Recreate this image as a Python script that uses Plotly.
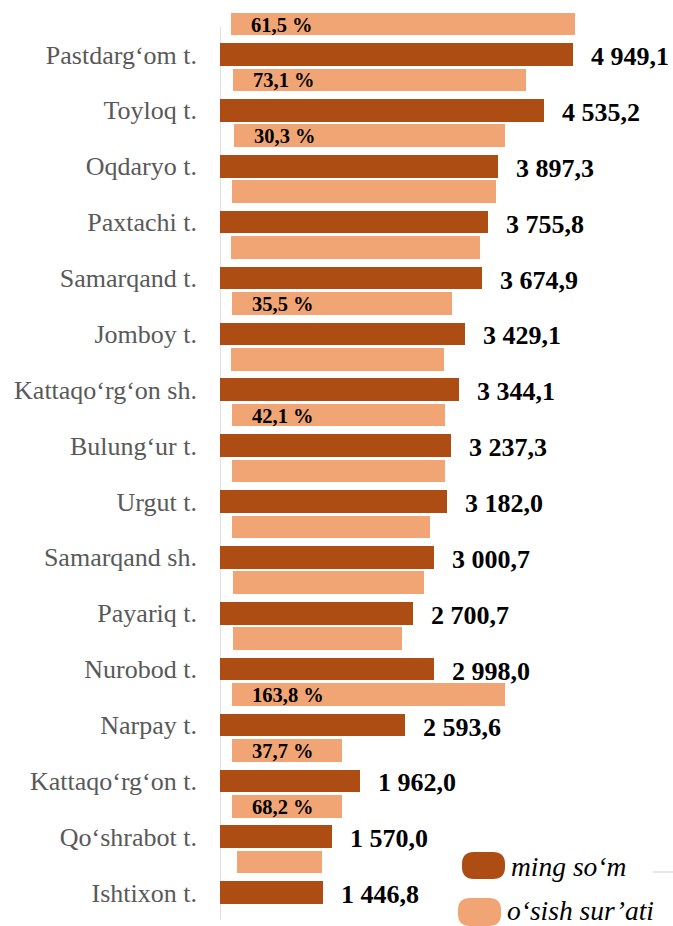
import plotly.graph_objects as go

categories = ["Pastdarg‘om t.", "Toyloq t.", "Oqdaryo t.", "Paxtachi t.", "Samarqand t.",
              "Jomboy t.", "Kattaqo‘rg‘on sh.", "Bulung‘ur t.", "Urgut t.", "Samarqand sh.",
              "Payariq t.", "Nurobod t.", "Narpay t.", "Kattaqo‘rg‘on t.", "Qo‘shrabot t.", "Ishtixon t."]
values = [4949.1, 4535.2, 3897.3, 3755.8, 3674.9, 3429.1, 3344.1, 3237.3,
          3182.0, 3000.7, 2700.7, 2998.0, 2593.6, 1962.0, 1570.0, 1446.8]
value_labels = ["4 949,1", "4 535,2", "3 897,3", "3 755,8", "3 674,9", "3 429,1", "3 344,1", "3 237,3",
                "3 182,0", "3 000,7", "2 700,7", "2 998,0", "2 593,6", "1 962,0", "1 570,0", "1 446,8"]
growth_bar = [4823, 4108, 3799, 3701, 3491, 3084, 2986, 2986,
              2986, 2776, 2678, 2369, 3827, 1542, 1542, 1192]
growth_base = [154, 182, 196, 168, 154, 168, 154, 168,
               168, 168, 182, 182, 168, 168, 168, 238]
growth_labels = ["61,5 %", "73,1 %", "30,3 %", "", "", "35,5 %", "", "42,1 %",
                 "", "", "", "", "163,8 %", "37,7 %", "68,2 %", ""]
legend_names = ["ming so‘m", "o‘sish sur’ati"]

DARK = "#AD4D13"
LIGHT = "#F2A574"
SERIF = "Liberation Serif, Times New Roman, serif"

W, H = 673, 926
ML, MR, MT, MB = 220, 0, 5, 6
PW, PH = W - ML - MR, H - MT - MB

fig = go.Figure()
fig.add_trace(go.Bar(
    y=categories, x=growth_bar, base=growth_base, orientation="h",
    width=0.405, offset=-0.7485, marker=dict(color=LIGHT, line=dict(width=0)),
    name=legend_names[1], showlegend=False, hoverinfo="skip"))
fig.add_trace(go.Bar(
    y=categories, x=values, orientation="h",
    width=0.405, offset=-0.2025, marker=dict(color=DARK, line=dict(width=0)),
    name=legend_names[0], showlegend=False))

annotations = []
for c, v, t in zip(categories, values, value_labels):
    annotations.append(dict(x=v, y=c, xref="x", yref="y", text=t, showarrow=False,
                            xanchor="left", yanchor="middle", xshift=16, yshift=-2,
                            font=dict(family=SERIF, size=26, color="#000000", weight="bold")))
for c, b, t in zip(categories, growth_base, growth_labels):
    if t:
        annotations.append(dict(x=b, y=c, xref="x", yref="y", text=t, showarrow=False,
                                xanchor="left", yanchor="middle", xshift=18, yshift=30,
                                font=dict(family=SERIF, size=20.5, color="#000000", weight="bold")))


def px2paper(px, py):
    return (px - ML) / PW, 1 - (py - MT) / PH


def pill(x0, y0, x1, y1, r):
    rx, ry = r / PW, r / PH
    a0, b0 = px2paper(x0, y0)
    a1, b1 = px2paper(x1, y1)
    return (f"M {a0+rx},{b0} L {a1-rx},{b0} Q {a1},{b0} {a1},{b0-ry} "
            f"L {a1},{b1+ry} Q {a1},{b1} {a1-rx},{b1} L {a0+rx},{b1} "
            f"Q {a0},{b1} {a0},{b1+ry} L {a0},{b0-ry} Q {a0},{b0} {a0+rx},{b0} Z")


shapes = [
    dict(type="line", xref="x", yref="y", x0=0, x1=0, y0=-0.495, y1=15.49,
         line=dict(color="#D9D9D9", width=1.5), layer="below"),
    dict(type="path", xref="paper", yref="paper", path=pill(462, 852, 505, 879, 12),
         fillcolor=DARK, line=dict(width=0)),
    dict(type="path", xref="paper", yref="paper", path=pill(458, 898, 501, 926, 12),
         fillcolor=LIGHT, line=dict(width=0)),
]
lx0, ly0 = px2paper(653, 872)
lx1, _ = px2paper(673, 872)
shapes.append(dict(type="line", xref="paper", yref="paper", x0=lx0, x1=lx1, y0=ly0, y1=ly0,
                   line=dict(color="#D9D9D9", width=1.2)))

tx, ty = px2paper(509, 866)
annotations.append(dict(x=tx, y=ty, xref="paper", yref="paper", text="<i>" + legend_names[0] + "</i>",
                        showarrow=False, xanchor="left", yanchor="middle",
                        font=dict(family=SERIF, size=27.5, color="#000000", style="italic")))
tx, ty = px2paper(505, 910)
annotations.append(dict(x=tx, y=ty, xref="paper", yref="paper", text="<i>" + legend_names[1] + "</i>",
                        showarrow=False, xanchor="left", yanchor="middle",
                        font=dict(family=SERIF, size=27.5, color="#000000", style="italic")))

fig.update_layout(
    width=W, height=H, margin=dict(l=ML, r=MR, t=MT, b=MB, pad=0, autoexpand=False),
    paper_bgcolor="white", plot_bgcolor="white",
    barmode="overlay", bargap=0,
    xaxis=dict(range=[0, PW / 0.07133], visible=False, fixedrange=True, automargin=False),
    yaxis=dict(type="category", categoryorder="array", categoryarray=categories,
               range=[15.49, -0.886], showgrid=False, zeroline=False, showline=False,
               ticks="", ticklabelstandoff=22, automargin=False, fixedrange=True,
               tickfont=dict(family=SERIF, size=26, color="#595959")),
    shapes=shapes, annotations=annotations, showlegend=False,
)

fig.write_html("out.html", config={"displayModeBar": False},
               post_script="document.body.style.margin='0';document.body.style.overflow='hidden';")
